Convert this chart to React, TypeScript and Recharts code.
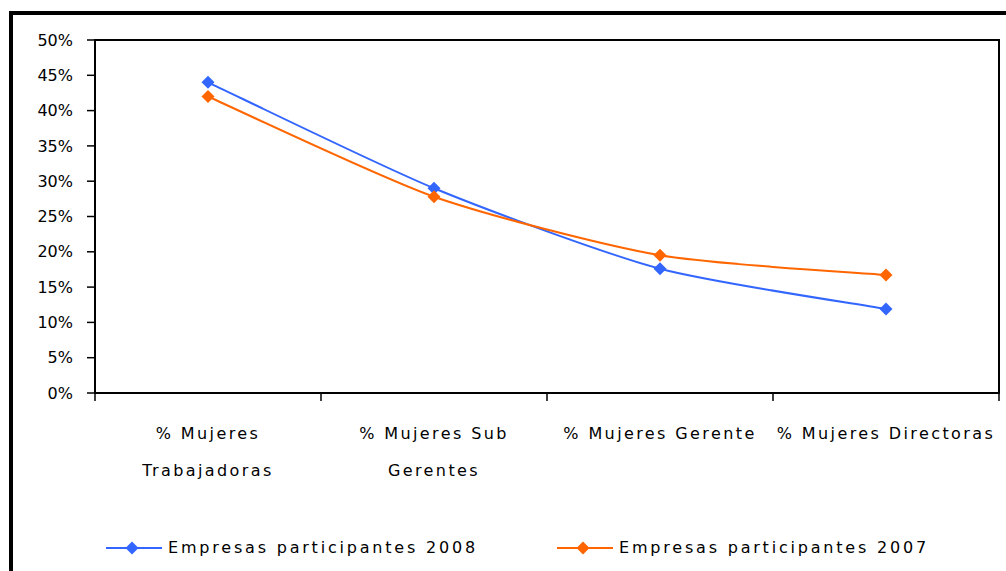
import React from "react";
import { LineChart, Line, XAxis, YAxis, ReferenceArea } from "recharts";

const categories = [
  "% Mujeres\nTrabajadoras",
  "% Mujeres Sub\nGerentes",
  "% Mujeres Gerente",
  "% Mujeres Directoras",
];
const series2008 = [44, 29, 17.6, 11.9];
const series2007 = [42, 27.8, 19.5, 16.7];
const yTicks = [0, 5, 10, 15, 20, 25, 30, 35, 40, 45, 50];
const seriesNames = ["Empresas participantes 2008", "Empresas participantes 2007"];
const seriesColors = ["#3366FF", "#FF6600"];

const data = categories.map((c, i) => ({
  pos: i + 0.5,
  cat: c,
  s2008: series2008[i],
  s2007: series2007[i],
}));

const boundaryTicks = categories.map((_, i) => i).concat([categories.length]);

const FONT = "'DejaVu Sans', sans-serif";
const CHART_W = 998;
const CHART_H = 563;
const MARGIN = { top: 32, right: 7, left: 0, bottom: 0 };
const Y_W = 87;
const PLOT_W = CHART_W - MARGIN.left - MARGIN.right - Y_W;
const BAND = PLOT_W / categories.length;

// Excel-like smoothed line (cardinal spline)
const smoothCurve = (tension: number) => {
  const k = (1 - tension) / 6;
  return (context: any) => {
    let pts: number[][] = [];
    return {
      areaStart() {},
      areaEnd() {},
      lineStart() {
        pts = [];
      },
      point(x: number, y: number) {
        pts.push([+x, +y]);
      },
      lineEnd() {
        if (!pts.length) return;
        context.moveTo(pts[0][0], pts[0][1]);
        for (let i = 0; i < pts.length - 1; i++) {
          const p0 = pts[i - 1] || pts[i];
          const p1 = pts[i];
          const p2 = pts[i + 1];
          const p3 = pts[i + 2] || p2;
          context.bezierCurveTo(
            p1[0] + k * (p2[0] - p0[0]),
            p1[1] + k * (p2[1] - p0[1]),
            p2[0] - k * (p3[0] - p1[0]),
            p2[1] - k * (p3[1] - p1[1]),
            p2[0],
            p2[1]
          );
        }
      },
    };
  };
};

const makeDiamond = (color: string) => (props: any) => {
  const { cx, cy, index } = props;
  if (cx == null || cy == null) return <g key={index} />;
  const r = 6.5;
  return (
    <path
      key={index}
      d={`M${cx},${cy - r}L${cx + r},${cy}L${cx},${cy + r}L${cx - r},${cy}Z`}
      fill={color}
      stroke="none"
    />
  );
};

const CatTick = (props: any) => {
  const { x, y, index } = props;
  const label = categories[index];
  if (!label) return <g />;
  const lines = label.split("\n");
  return (
    <g>
      {lines.map((ln: string, i: number) => (
        <text
          key={i}
          x={x + BAND / 2}
          y={y + 38 + i * 37}
          textAnchor="middle"
          fontFamily={FONT}
          fontSize={16}
          letterSpacing={2.4}
          fill="#000"
        >
          {ln}
        </text>
      ))}
    </g>
  );
};

const LegendItem = ({ name, color }: { name: string; color: string }) => (
  <div style={{ display: "flex", alignItems: "center" }}>
    <svg width={62} height={14} style={{ display: "block" }}>
      <line x1={0} y1={7} x2={56} y2={7} stroke={color} strokeWidth={2} />
      <path d="M26,0.5L32.5,7L26,13.5L19.5,7Z" fill={color} />
    </svg>
    <span
      style={{
        fontFamily: FONT,
        fontSize: 16,
        letterSpacing: 2.8,
        color: "#000",
        whiteSpace: "nowrap",
        lineHeight: "14px",
      }}
    >
      {name}
    </span>
  </div>
);

export default function App() {
  return (
    <div
      style={{
        position: "fixed",
        left: 8,
        top: 8,
        width: CHART_W,
        height: CHART_H,
        overflow: "hidden",
        background: "#fff",
      }}
    >
      <div
        style={{
          position: "absolute",
          left: 1,
          top: 3,
          width: 1200,
          height: 800,
          border: "4px solid #000",
          boxSizing: "border-box",
        }}
      />
      <div style={{ position: "absolute", left: 0, top: 0, width: CHART_W, height: CHART_H }}>
        <LineChart
          width={CHART_W}
          height={CHART_H}
          data={data}
          margin={MARGIN}
          style={{ overflow: "visible" }}
        >
          <XAxis
            type="number"
            dataKey="pos"
            domain={[0, categories.length]}
            ticks={boundaryTicks}
            tick={<CatTick />}
            tickSize={8}
            tickMargin={0}
            height={178}
            axisLine={{ stroke: "#000", strokeWidth: 2 }}
            tickLine={{ stroke: "#000", strokeWidth: 1.5 }}
            interval={0}
          />
          <YAxis
            type="number"
            domain={[0, 50]}
            ticks={yTicks}
            width={Y_W}
            tickSize={8}
            tickMargin={14}
            tickFormatter={(v: number) => `${v}%`}
            tick={{ fontFamily: FONT, fontSize: 16, fill: "#000" }}
            axisLine={{ stroke: "#000", strokeWidth: 2 }}
            tickLine={{ stroke: "#000", strokeWidth: 1.5 }}
            interval={0}
          />
          <ReferenceArea
            x1={0}
            x2={categories.length}
            y1={0}
            y2={50}
            fill="none"
            fillOpacity={0}
            stroke="#000"
            strokeWidth={2}
            ifOverflow="visible"
          />
          <Line
            dataKey="s2008"
            name={seriesNames[0]}
            type={smoothCurve(0.3) as any}
            stroke={seriesColors[0]}
            strokeWidth={2}
            dot={makeDiamond(seriesColors[0])}
            activeDot={false}
            isAnimationActive={false}
          />
          <Line
            dataKey="s2007"
            name={seriesNames[1]}
            type={smoothCurve(0.3) as any}
            stroke={seriesColors[1]}
            strokeWidth={2}
            dot={makeDiamond(seriesColors[1])}
            activeDot={false}
            isAnimationActive={false}
          />
        </LineChart>
      </div>
      <div style={{ position: "absolute", left: 98, top: 533 }}>
        <LegendItem name={seriesNames[0]} color={seriesColors[0]} />
      </div>
      <div style={{ position: "absolute", left: 549, top: 533 }}>
        <LegendItem name={seriesNames[1]} color={seriesColors[1]} />
      </div>
    </div>
  );
}
